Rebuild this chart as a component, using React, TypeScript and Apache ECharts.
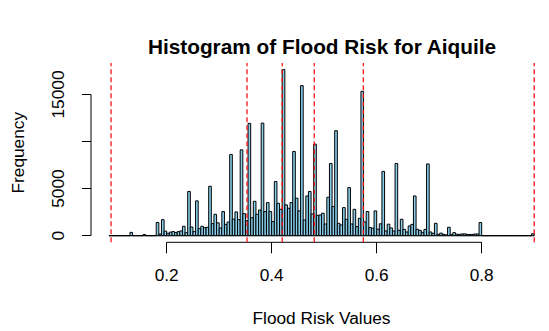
import React, { useEffect, useRef } from "react";
import * as echarts from "echarts";

// Histogram bins: start, width, counts per bin
const BIN_START = 0.09;
const BIN_WIDTH = 0.005;
const counts = [
  0, 0, 0, 0, 0, 0, 0, 0, 350, 0,
  0, 0, 0, 120, 0, 0, 0, 0, 1400, 180,
  1700, 480, 250, 380, 430, 330, 430, 500, 1000, 320,
  4700, 920, 430, 3700, 750, 1000, 850, 890, 5250, 1280,
  2270, 1360, 820, 2560, 1200, 1450, 8630, 1760, 2520, 1700,
  9120, 2340, 1600, 11930, 1900, 3650, 2270, 2730, 11960, 2560,
  3510, 2560, 1490, 5750, 3440, 2800, 17640, 3270, 2910, 3510,
  8950, 3980, 2630, 15940, 1670, 4220, 4690, 2310, 9730, 2160,
  2200, 2380, 1240, 4080, 7670, 3090, 11150, 1310, 1140, 2980,
  1740, 5110, 1240, 2800, 960, 1850, 15340, 1460, 2560, 860,
  800, 2630, 690, 1260, 6830, 500, 1220, 820, 500, 7670,
  570, 1740, 670, 390, 1030, 1200, 4220, 670, 570, 355,
  670, 7620, 390, 250, 1310, 140, 270, 140, 80, 890,
  140, 320, 160, 140, 180, 190, 140, 120, 130, 180,
  180, 1400, 0, 0, 0, 0, 0, 0, 0, 0,
  0, 0, 0, 0, 0, 0, 0, 0, 0, 0,
  0, 200,
];
// Reference (red dashed) lines
const refLines = [0.094, 0.353, 0.42, 0.481, 0.5745, 0.9];
const xTicks = [0.2, 0.4, 0.6, 0.8];
const yTicks = [0, 5000, 10000, 15000];
const yLabels = [0, 5000, 15000];

const X_MIN = 0.0558;
const X_MAX = 0.9282;
const Y_MIN = -705;
const Y_MAX = 18346;

export default function App() {
  const ref = useRef<HTMLDivElement>(null);
  useEffect(() => {
    document.body.style.margin = "0";
    const chart = echarts.init(ref.current!, null, { renderer: "svg" });
    const font = "'Liberation Sans', Arial, Helvetica, sans-serif";
    const bins = counts.map((c, i) => [
      BIN_START + i * BIN_WIDTH,
      BIN_START + (i + 1) * BIN_WIDTH,
      c,
    ]);
    const binEnd = BIN_START + counts.length * BIN_WIDTH;
    const refSeries = refLines.map((v) => ({
      type: "line",
      data: [
        [v, Y_MIN],
        [v, Y_MAX],
      ],
      symbol: "none",
      silent: true,
      z: 5,
      lineStyle: { color: "#ff0000", width: 1.2, type: [5, 3] },
    }));
    const option: any = {
      animation: false,
      grid: { left: 91, right: 0, top: 63, bottom: 88.7 },
      xAxis: {
        type: "value",
        min: X_MIN,
        max: X_MAX,
        axisLine: { show: false, onZero: false },
        splitLine: { show: false },
        axisTick: {
          show: true,
          customValues: xTicks,
          length: 11,
          lineStyle: { color: "#000", width: 1 },
        },
        axisLabel: {
          customValues: xTicks,
          margin: 24,
          fontSize: 17.3,
          color: "#000",
          fontFamily: font,
          formatter: (v: number) => v.toFixed(1),
        },
      },
      yAxis: {
        type: "value",
        min: Y_MIN,
        max: Y_MAX,
        axisLine: { show: false, onZero: false },
        splitLine: { show: false },
        axisTick: {
          show: true,
          customValues: yTicks,
          length: 9,
          lineStyle: { color: "#000", width: 1 },
        },
        axisLabel: {
          customValues: yLabels,
          rotate: 90,
          margin: 25,
          fontSize: 17.3,
          color: "#000",
          fontFamily: font,
          formatter: (v: number) => String(v),
        },
      },
      series: [
        {
          type: "line",
          data: [
            [BIN_START, 0],
            [binEnd, 0],
          ],
          symbol: "none",
          silent: true,
          lineStyle: { color: "#000", width: 1 },
          z: 1,
        },
        {
          type: "custom",
          z: 2,
          clip: false,
          encode: { x: [0, 1], y: 2 },
          data: bins,
          renderItem: (params: any, api: any) => {
            const x0 = api.value(0);
            const x1 = api.value(1);
            const c = api.value(2);
            const p0 = api.coord([x0, c]);
            const p1 = api.coord([x1, 0]);
            return {
              type: "rect",
              shape: {
                x: p0[0],
                y: p0[1],
                width: p1[0] - p0[0],
                height: p1[1] - p0[1],
              },
              style: { fill: "#87CEEB", stroke: "#000", lineWidth: 1 },
            };
          },
        },
        ...refSeries,
      ],
      graphic: [
        {
          type: "text",
          x: 322,
          y: 46.5,
          style: {
            text: "Histogram of Flood Risk for Aiquile",
            fontSize: 20.8,
            fontWeight: "bold",
            fontFamily: font,
            fill: "#000",
            align: "center",
            verticalAlign: "middle",
            textAlign: "center",
            textVerticalAlign: "middle",
          },
        },
        {
          type: "text",
          x: 321.5,
          y: 318,
          style: {
            text: "Flood Risk Values",
            fontSize: 17.3,
            fontFamily: font,
            fill: "#000",
            align: "center",
            verticalAlign: "middle",
            textAlign: "center",
            textVerticalAlign: "middle",
          },
        },
        {
          type: "text",
          x: 17.5,
          y: 152.7,
          rotation: Math.PI / 2,
          style: {
            text: "Frequency",
            fontSize: 17.3,
            fontFamily: font,
            fill: "#000",
            align: "center",
            verticalAlign: "middle",
            textAlign: "center",
            textVerticalAlign: "middle",
          },
        },
      ],
    };
    chart.setOption(option);
    const a = chart.convertToPixel({ gridIndex: 0 }, [xTicks[0], Y_MIN]) as number[];
    const b = chart.convertToPixel({ gridIndex: 0 }, [xTicks[xTicks.length - 1], Y_MIN]) as number[];
    const c = chart.convertToPixel({ gridIndex: 0 }, [X_MIN, yTicks[0]]) as number[];
    const d = chart.convertToPixel({ gridIndex: 0 }, [X_MIN, yTicks[yTicks.length - 1]]) as number[];
    chart.setOption({
      graphic: [
        ...option.graphic,
        {
          type: "line",
          shape: { x1: a[0], y1: a[1], x2: b[0], y2: b[1] },
          style: { stroke: "#000", lineWidth: 1 },
        },
        {
          type: "line",
          shape: { x1: c[0], y1: c[1], x2: d[0], y2: d[1] },
          style: { stroke: "#000", lineWidth: 1 },
        },
      ],
    });
    return () => chart.dispose();
  }, []);
  return <div ref={ref} style={{ width: 549, height: 331 }} />;
}
